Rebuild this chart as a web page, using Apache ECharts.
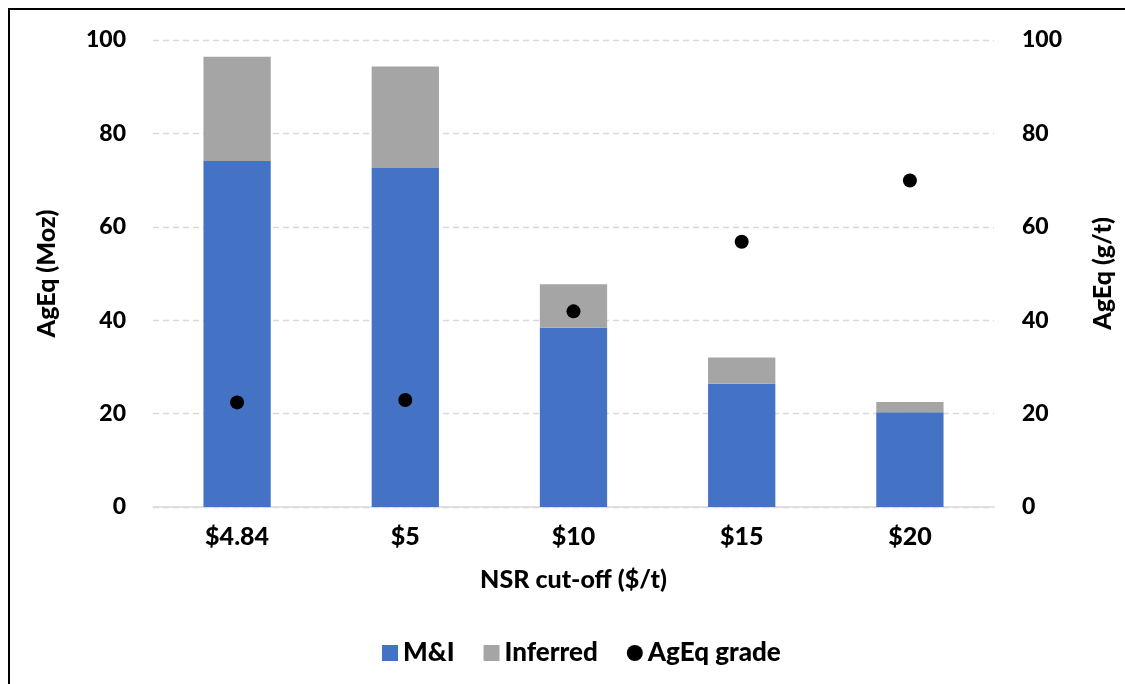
<!DOCTYPE html>
<html>
<head>
<meta charset="utf-8">
<script src="https://cdn.jsdelivr.net/npm/echarts@6/dist/echarts.min.js"></script>
<style>
html,body{margin:0;padding:0;background:#fff;}
#chart{width:1125px;height:684px;}
</style>
</head>
<body>
<div id="chart"></div>
<script>
const categories = ['$4.84', '$5', '$10', '$15', '$20'];
const miValues = [74.1, 72.6, 38.4, 26.4, 20.3];
const inferredValues = [22.3, 21.7, 9.3, 5.6, 2.2];
const gradeValues = [22.4, 22.9, 41.9, 56.8, 69.9];
const yTicks = { min: 0, max: 100, interval: 20 };

const FONT = 'Lato';
const W = 900;
const chart = echarts.init(document.getElementById('chart'));
const yLabelStyle = { fontFamily: FONT, fontWeight: W, fontSize: 23, color: '#000' };
const xLabelStyle = { fontFamily: FONT, fontWeight: W, fontSize: 25, color: '#000' };
const nameStyle = { fontFamily: FONT, fontWeight: W, fontSize: 25, color: '#000' };

chart.setOption({
  animation: false,
  backgroundColor: '#fff',
  graphic: [{
    type: 'rect', silent: true, z: 100,
    shape: { x: 9, y: 9, width: 1300, height: 900 },
    style: { fill: 'none', stroke: '#000', lineWidth: 2 }
  }],
  grid: { left: 153, right: 131, top: 40, bottom: 177 },
  legend: {
    bottom: 13,
    left: 377,
    itemWidth: 16, itemHeight: 16, itemGap: 29,
    textStyle: { fontFamily: FONT, fontWeight: W, fontSize: 26, color: '#000' },
    data: [
      { name: 'M&I', icon: 'rect' },
      { name: 'Inferred', icon: 'rect' },
      { name: 'AgEq grade', icon: 'circle', itemStyle: { color: '#000', opacity: 1 } }
    ]
  },
  xAxis: {
    type: 'category',
    data: categories,
    name: 'NSR cut-off ($/t)',
    nameLocation: 'middle',
    nameGap: 60,
    nameTextStyle: nameStyle,
    axisLine: { lineStyle: { color: '#d9d9d9', width: 1.5 } },
    axisTick: { show: false },
    axisLabel: Object.assign({ margin: 17 }, xLabelStyle)
  },
  yAxis: [{
    type: 'value', min: yTicks.min, max: yTicks.max, interval: yTicks.interval,
    name: 'AgEq (Moz)', nameLocation: 'middle', nameGap: 94,
    nameTextStyle: nameStyle,
    axisLine: { show: false }, axisTick: { show: false },
    axisLabel: Object.assign({ margin: 27 }, yLabelStyle),
    splitLine: { lineStyle: { color: '#d9d9d9', type: [6, 4], width: 1.3 } }
  }, {
    type: 'value', min: yTicks.min, max: yTicks.max, interval: yTicks.interval,
    name: 'AgEq (g/t)', nameLocation: 'middle', nameGap: 96,
    nameTextStyle: nameStyle,
    axisLine: { show: false }, axisTick: { show: false },
    axisLabel: Object.assign({ margin: 28 }, yLabelStyle),
    splitLine: { show: false }
  }],
  series: [{
    name: 'M&I', type: 'bar', stack: 'total', barWidth: '40%',
    data: miValues,
    itemStyle: { color: '#4472C4' }
  }, {
    name: 'Inferred', type: 'bar', stack: 'total', barWidth: '40%',
    data: inferredValues,
    itemStyle: { color: '#A5A5A5' }
  }, {
    name: 'AgEq grade', type: 'scatter', yAxisIndex: 1,
    data: gradeValues, symbol: 'circle', symbolSize: 14,
    itemStyle: { color: '#000', opacity: 1 }, z: 5
  }]
});
</script>
</body>
</html>
